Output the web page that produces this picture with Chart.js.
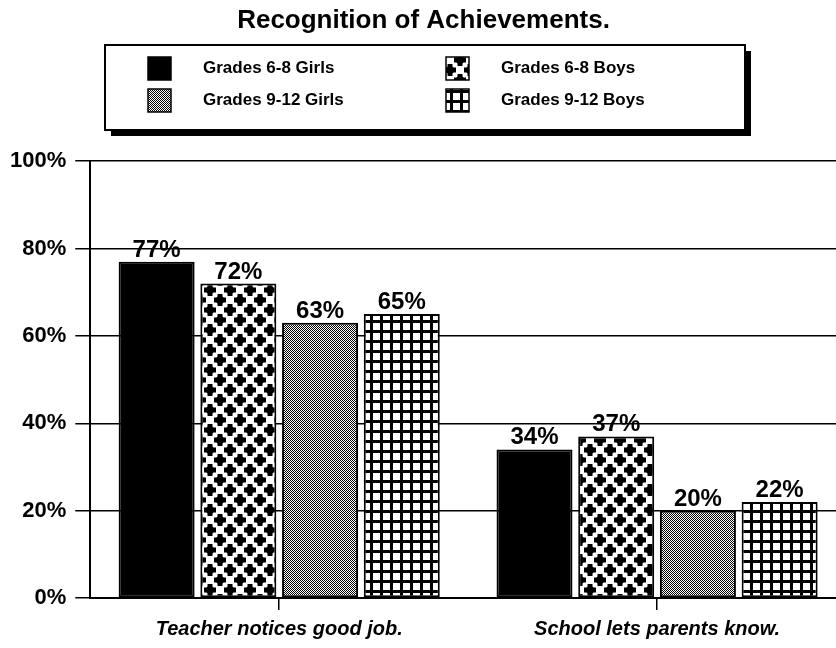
<!doctype html>
<html>
<head>
<title>Recognition of Achievements</title>
<script src="https://cdn.jsdelivr.net/npm/chart.js@4/dist/chart.umd.min.js"></script>
<style>
  html, body { margin: 0; padding: 0; background: #fff; overflow: hidden; }
  canvas { display: block; }
</style>
</head>
<body>
<canvas id="canvas" width="850" height="648"></canvas>
<script>
// categories and the four series (percent)
var categories = ['Teacher notices good job.', 'School lets parents know.'];
var seriesNames = ['Grades 6-8 Girls', 'Grades 6-8 Boys', 'Grades 9-12 Girls', 'Grades 9-12 Boys'];
var girls68 = [77, 34];
var boys68 = [72, 37];
var girls912 = [63, 20];
var boys912 = [65, 22];
var yTicks = [0, 20, 40, 60, 80, 100];

var FONT = '"Liberation Sans", Arial, sans-serif';
Chart.defaults.font.family = FONT;
Chart.defaults.color = '#000';

// fill patterns
function makePattern(w, h, draw) {
    var c = document.createElement('canvas');
    c.width = w; c.height = h;
    var g = c.getContext('2d');
    g.fillStyle = '#fff';
    g.fillRect(0, 0, w, h);
    g.fillStyle = '#000';
    draw(g, w, h);
    return g.createPattern(c, 'repeat');
}

function cross(g, x, y) {
    g.fillRect(x - 2.5, y - 6, 5, 12);
    g.fillRect(x - 6, y - 2.5, 12, 5);
    g.beginPath();
    g.arc(x, y, 4, 0, Math.PI * 2);
    g.fill();
}

var solid = '#000';
var crosses = makePattern(20, 20, function (g, w, h) {
    cross(g, 0, 0); cross(g, w, 0); cross(g, 0, h); cross(g, w, h);
    cross(g, w / 2, h / 2);
});
var dither = makePattern(2, 2, function (g) {
    g.fillRect(0, 0, 1, 1);
    g.fillRect(1, 1, 1, 1);
});
var grid = makePattern(10, 10, function (g, w, h) {
    g.fillRect(0, 0, w, h);
    g.fillStyle = '#fff';
    g.fillRect(3, 3, 7, 7);
});

var fills = [solid, crosses, dither, grid];
var values = [girls68, boys68, girls912, boys912];

var datasets = seriesNames.map(function (name, i) {
    return {
        label: name,
        data: values[i],
        backgroundColor: fills[i],
        borderColor: '#000',
        borderWidth: 2,
        borderSkipped: false
    };
});

// percent labels above each bar
var barLabels = {
    id: 'barLabels',
    afterDatasetsDraw: function (chart) {
        var ctx = chart.ctx;
        ctx.save();
        ctx.font = 'bold 24px ' + FONT;
        ctx.fillStyle = '#000';
        ctx.textAlign = 'center';
        ctx.textBaseline = 'alphabetic';
        chart.data.datasets.forEach(function (ds, i) {
            chart.getDatasetMeta(i).data.forEach(function (bar, j) {
                ctx.fillText(ds.data[j] + '%', bar.x, bar.y - 5);
            });
        });
        ctx.restore();
    }
};

// boxed two-column legend with a drop shadow
var boxLegend = {
    id: 'boxLegend',
    afterDraw: function (chart) {
        var ctx = chart.ctx;
        var bx = 105, by = 45, bw = 640, bh = 85;
        ctx.save();
        ctx.fillStyle = '#000';
        ctx.fillRect(bx + 6, by + 6, bw, bh);
        ctx.fillStyle = '#fff';
        ctx.fillRect(bx, by, bw, bh);
        ctx.lineWidth = 2;
        ctx.strokeStyle = '#000';
        ctx.strokeRect(bx, by, bw, bh);
        ctx.font = 'bold 17px ' + FONT;
        ctx.textBaseline = 'middle';
        ctx.textAlign = 'left';
        var cols = [148, 446];
        var rows = [68, 100];
        chart.data.datasets.forEach(function (ds, i) {
            var x = cols[i % 2], y = rows[Math.floor(i / 2)];
            ctx.fillStyle = ds.backgroundColor;
            ctx.fillRect(x, y - 11, 23, 23);
            ctx.lineWidth = 1.5;
            ctx.strokeRect(x, y - 11, 23, 23);
            ctx.fillStyle = '#000';
            ctx.fillText(ds.label, x + 55, y);
        });
        ctx.restore();
    }
};

var config = {
    type: 'bar',
    data: {
        labels: categories,
        datasets: datasets
    },
    options: {
        responsive: false,
        animation: false,
        layout: { padding: { left: 1, right: 4, bottom: 0 } },
        datasets: {
            bar: { categoryPercentage: 0.865, barPercentage: 0.93 }
        },
        plugins: {
            legend: { display: false },
            tooltip: { enabled: false },
            title: {
                display: true,
                text: 'Recognition of Achievements.',
                font: { size: 26, weight: 'bold' },
                color: '#000',
                padding: { top: 5, bottom: 125 }
            }
        },
        scales: {
            x: {
                grid: {
                    offset: false,
                    drawOnChartArea: false,
                    drawTicks: true,
                    tickLength: 12,
                    color: '#000',
                    lineWidth: 1.5
                },
                border: { display: true, color: '#000', width: 2 },
                ticks: {
                    font: { size: 20, weight: 'bold', style: 'italic', lineHeight: 1 },
                    color: '#000',
                    padding: 9
                }
            },
            y: {
                min: 0,
                max: 100,
                afterBuildTicks: function (scale) {
                    scale.ticks = yTicks.map(function (v) { return { value: v }; });
                },
                grid: {
                    color: '#000',
                    lineWidth: 1.5,
                    tickLength: 15
                },
                border: { display: true, color: '#000', width: 2 },
                ticks: {
                    font: { size: 22, weight: 'bold' },
                    color: '#000',
                    padding: 9,
                    callback: function (v) { return v + '%'; }
                }
            }
        }
    },
    plugins: [barLabels, boxLegend]
};

window.myBar = new Chart(document.getElementById('canvas'), config);
</script>
</body>
</html>
